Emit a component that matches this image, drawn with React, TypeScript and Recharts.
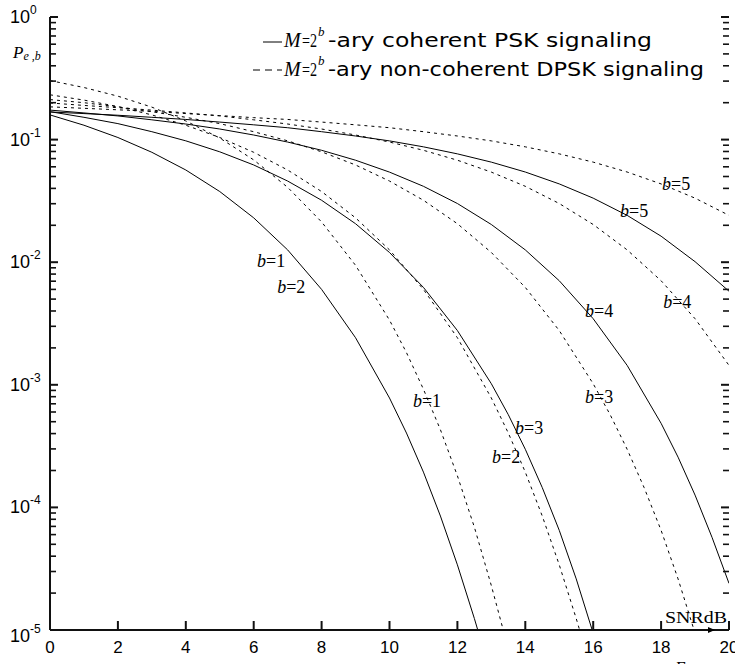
import { LineChart, Line, XAxis, YAxis, ReferenceDot, Legend } from "recharts";

const SANS = "'Liberation Sans', Arial, sans-serif";
const SERIF = "'Liberation Serif', 'Times New Roman', serif";
const WIDE = "'DejaVu Sans', Verdana, sans-serif";
const INK = "#000";
const FRAME = "#111";

const xTicks = [0, 2, 4, 6, 8, 10, 12, 14, 16, 18, 20];
const yDecades = [1e-5, 1e-4, 1e-3, 1e-2, 1e-1, 1];
const yExponents = ["-5", "-4", "-3", "-2", "-1", "0"];
const yMinorSteps = [2, 3, 4, 5, 6, 7, 8, 9];
const yMinorTicks = yDecades.slice(0, -1).flatMap((d) => yMinorSteps.map((k) => k * d));

// [SNR dB, Pe,b]
// coherent PSK (b=1 and b=2 share one curve)
const pskB12 = [
  [0, 0.159], [1, 0.131], [2, 0.104], [3, 0.0788], [4, 0.0565], [5, 0.0377],
  [6, 0.023], [7, 0.0126], [8, 0.006], [9, 0.00242], [10, 7.8e-4], [10.5, 4.04e-4],
  [11, 1.94e-4], [11.5, 8.5e-5], [12, 3.4e-5], [12.5, 1.24e-5], [12.6, 1e-5],
];
const pskB3 = [
  [0, 0.169], [1, 0.152], [2, 0.135], [3, 0.116], [4, 0.0977], [5, 0.0795],
  [6, 0.0621], [7, 0.0459], [8, 0.032], [9, 0.0206], [10, 0.012], [11, 0.00623],
  [12, 0.00277], [13, 0.00102], [13.5, 5.7e-4], [14, 2.98e-4], [14.5, 1.45e-4],
  [15, 6.5e-5], [15.5, 2.61e-5], [15.97, 1e-5],
];
const pskB4 = [
  [0, 0.174], [1, 0.165], [2, 0.156], [3, 0.145], [4, 0.134], [5, 0.122],
  [6, 0.109], [7, 0.0955], [8, 0.0818], [9, 0.0679], [10, 0.0543], [11, 0.0416],
  [12, 0.0301], [13, 0.0203], [14, 0.0126], [15, 0.00706], [16, 0.00346],
  [17, 0.00144], [18, 4.85e-4], [18.5, 2.57e-4], [19, 1.26e-4], [19.5, 5.7e-5],
  [20, 2.4e-5],
];
const pskB5 = [
  [0, 0.168], [1, 0.163], [2, 0.158], [3, 0.152], [4, 0.146], [5, 0.139],
  [6, 0.132], [7, 0.125], [8, 0.116], [9, 0.107], [10, 0.0976], [11, 0.0873],
  [12, 0.0765], [13, 0.0655], [14, 0.0544], [15, 0.0435], [16, 0.0333],
  [17, 0.0241], [18, 0.0163], [19, 0.0101], [20, 0.0058],
];
// non-coherent DPSK
const dpskB1 = [
  [0, 0.303], [1, 0.266], [2, 0.226], [3, 0.184], [4, 0.142], [5, 0.103],
  [6, 0.0683], [7, 0.0408], [8, 0.0213], [9, 0.00943], [10, 0.00337],
  [10.5, 0.00183], [11, 9.2e-4], [11.5, 4.3e-4], [12, 1.81e-4], [12.5, 6.9e-5],
  [13, 2.3e-5], [13.35, 1e-5],
];
const dpskB2 = [
  [0, 0.232], [1, 0.21], [2, 0.186], [3, 0.159], [4, 0.131], [5, 0.104],
  [6, 0.0788], [7, 0.0565], [8, 0.0377], [9, 0.023], [10, 0.0126], [11, 0.006],
  [12, 0.00242], [13, 7.8e-4], [13.5, 4.04e-4], [14, 1.94e-4], [14.5, 8.5e-5],
  [15, 3.4e-5], [15.5, 1.24e-5], [15.6, 1e-5],
];
const dpskB3 = [
  [0, 0.212], [1, 0.2], [2, 0.185], [3, 0.169], [4, 0.152], [5, 0.135],
  [6, 0.116], [7, 0.0977], [8, 0.0795], [9, 0.0621], [10, 0.0459], [11, 0.032],
  [12, 0.0206], [13, 0.012], [14, 0.00623], [15, 0.00277], [16, 0.00102],
  [16.5, 5.7e-4], [17, 2.98e-4], [17.5, 1.45e-4], [18, 6.5e-5], [18.5, 2.61e-5],
  [18.97, 1e-5],
];
const dpskB4 = [
  [0, 0.199], [1, 0.19], [2, 0.182], [3, 0.174], [4, 0.165], [5, 0.156],
  [6, 0.145], [7, 0.134], [8, 0.122], [9, 0.109], [10, 0.0955], [11, 0.0818],
  [12, 0.0679], [13, 0.0543], [14, 0.0416], [15, 0.0301], [16, 0.0203],
  [17, 0.0126], [18, 0.00706], [19, 0.00346], [20, 0.00144],
];
const dpskB5 = [
  [0, 0.185], [1, 0.18], [2, 0.175], [3, 0.17], [4, 0.163], [5, 0.157],
  [6, 0.151], [7, 0.146], [8, 0.139], [9, 0.132], [10, 0.125], [11, 0.116],
  [12, 0.107], [13, 0.0976], [14, 0.0873], [15, 0.0765], [16, 0.0655],
  [17, 0.0544], [18, 0.0435], [19, 0.0333], [20, 0.0241],
];

const solidCurves = [pskB12, pskB3, pskB4, pskB5];
const dashedCurves = [dpskB1, dpskB2, dpskB3, dpskB4, dpskB5];

// "b=n" tags, anchored in data units (lower-left of the text)
const tagSnr = [6.1, 6.69, 10.69, 13.7, 13.02, 16.79, 18.03, 15.76, 18.06, 15.76];
const tagPe = [9.1e-3, 5.6e-3, 6.6e-4, 4.0e-4, 2.3e-4, 0.0234, 0.0388, 3.6e-3, 4.2e-3, 7.1e-4];
const tagB = [1, 2, 1, 3, 2, 5, 5, 4, 4, 3];

const toRows = (pts: number[][]) => pts.map(([x, p]) => ({ x, p }));

const Blank = () => <g />;

const LeftLabel = (props: any) => {
  const { y, payload } = props;
  const i = yDecades.indexOf(payload.value);
  if (i < 0) return <g />;
  return (
    <text x={10} y={y + (i === 0 ? 12 : 6)} fontFamily={SANS} fontSize={18} fill={INK}>
      10
      <tspan dy={-9} fontSize={12}>
        {yExponents[i]}
      </tspan>
    </text>
  );
};

const BottomLabel = (props: any) => {
  const { x, payload } = props;
  return (
    <text x={x} y={653} textAnchor="middle" fontFamily={SANS} fontSize={17} fill={INK}>
      {payload.value}
    </text>
  );
};

// inward tick marks on the log axes, placed at the axis scale positions
const yTickMark = (len: number, dir: number, width: number) => ({
  content: (p: any) => (
    <line
      x1={p.viewBox.x}
      x2={p.viewBox.x + dir * len}
      y1={p.viewBox.y}
      y2={p.viewBox.y}
      stroke={FRAME}
      strokeWidth={width}
    />
  ),
});

const LegendBox = () => (
  <svg width={485} height={70} style={{ display: "block" }}>
    <line x1={13} x2={32} y1={22} y2={22} stroke={INK} strokeWidth={1} />
    <line x1={3} x2={32} y1={50} y2={50} stroke={INK} strokeWidth={1} strokeDasharray="7 5" />
    {[
      { y: 27, text: "-ary coherent  PSK signaling", len: 324 },
      { y: 56, text: "-ary non-coherent DPSK signaling", len: 376 },
    ].map((row) => (
      <g key={row.text}>
        <text x={34} y={row.y} fontFamily={SERIF} fontStyle="italic" fontSize={20} fill={INK}>
          M
        </text>
        <text
          x={52}
          y={row.y}
          fontFamily={SERIF}
          fontSize={19}
          fill={INK}
          textLength={15}
          lengthAdjust="spacingAndGlyphs"
        >
          =2
        </text>
        <text x={68} y={row.y - 11} fontFamily={SERIF} fontStyle="italic" fontSize={13} fill={INK}>
          b
        </text>
        <text
          x={78}
          y={row.y}
          fontFamily={WIDE}
          fontSize={20}
          fill={INK}
          textLength={row.len}
          lengthAdjust="spacingAndGlyphs"
        >
          {row.text}
        </text>
      </g>
    ))}
  </svg>
);

const tagLabel = (n: number) => ({
  content: (p: any) => (
    <text x={p.viewBox.x} y={p.viewBox.y} fontFamily={SERIF} fontSize={18} fill={INK}>
      <tspan fontStyle="italic">b</tspan>={n}
    </text>
  ),
});

const cornerLabel = {
  content: (p: any) => (
    <g>
      <text
        x={p.viewBox.x - 2}
        y={p.viewBox.y - 7}
        textAnchor="end"
        fontFamily={SERIF}
        fontSize={16}
        fill={INK}
        textLength={62}
        lengthAdjust="spacingAndGlyphs"
      >
        SNRdB
      </text>
      <path
        d={`M${p.viewBox.x - 21},${p.viewBox.y - 3} L${p.viewBox.x - 14},${p.viewBox.y} L${p.viewBox.x - 21},${p.viewBox.y + 3} Z`}
        fill={INK}
      />
      <text x={p.viewBox.x - 54} y={p.viewBox.y + 43} fontFamily={SERIF} fontStyle="italic" fontSize={17} fill={INK}>
        Γ
      </text>
    </g>
  ),
};

const peLabel = {
  content: (p: any) => (
    <text x={p.viewBox.x - 37} y={p.viewBox.y + 41} fontFamily={SERIF} fontStyle="italic" fill={INK}>
      <tspan fontSize={17}>P</tspan>
      <tspan fontSize={12} dy={2}>
        e ,b
      </tspan>
    </text>
  ),
};

export default function App() {
  const axisLine = { stroke: FRAME, strokeWidth: 2 };
  const tickLine = { stroke: FRAME, strokeWidth: 2 };
  const yCommon = {
    type: "number" as const,
    scale: "log" as const,
    domain: [1e-5, 1],
    ticks: yDecades,
    interval: 0 as const,
    tickSize: 0,
    tickMargin: 0,
    tickLine: false,
    axisLine,
    allowDataOverflow: true,
  };
  return (
    <div style={{ position: "absolute", left: 0, top: 0, background: "#fff" }}>
      <LineChart width={735} height={664} margin={{ top: 17, right: 6, bottom: 0, left: 0 }}>
        <XAxis
          dataKey="x"
          type="number"
          domain={[0, 20]}
          ticks={xTicks}
          interval={0}
          height={34}
          tickSize={-9}
          tickMargin={0}
          tickLine={tickLine}
          axisLine={axisLine}
          tick={BottomLabel}
          allowDataOverflow
        />
        <XAxis
          xAxisId="top"
          orientation="top"
          dataKey="x"
          type="number"
          domain={[0, 20]}
          ticks={xTicks}
          interval={0}
          height={0}
          tickSize={-9}
          tickMargin={0}
          tickLine={tickLine}
          axisLine={axisLine}
          tick={Blank}
          allowDataOverflow
        />
        <YAxis {...yCommon} width={50} tick={LeftLabel} />
        <YAxis {...yCommon} yAxisId="right" orientation="right" width={0} tick={Blank} />
        <Legend
          layout="horizontal"
          verticalAlign="middle"
          align="center"
          wrapperStyle={{ position: "absolute", left: 250, top: 20, width: 485, height: 70 }}
          content={LegendBox}
        />
        {solidCurves.map((pts, i) => (
          <Line
            key={"psk" + i}
            data={toRows(pts)}
            dataKey="p"
            type="linear"
            stroke={INK}
            strokeWidth={1}
            dot={false}
            isAnimationActive={false}
            legendType="none"
          />
        ))}
        {dashedCurves.map((pts, i) => (
          <Line
            key={"dpsk" + i}
            data={toRows(pts)}
            dataKey="p"
            type="linear"
            stroke={INK}
            strokeWidth={1}
            strokeDasharray="3 4"
            dot={false}
            isAnimationActive={false}
            legendType="none"
          />
        ))}
        {yDecades.map((v) => (
          <ReferenceDot key={"lM" + v} x={0} y={v} r={0} fill="none" stroke="none" label={yTickMark(8, 1, 2)} />
        ))}
        {yDecades.map((v) => (
          <ReferenceDot key={"rM" + v} x={20} y={v} r={0} fill="none" stroke="none" label={yTickMark(8, -1, 2)} />
        ))}
        {yMinorTicks.map((v) => (
          <ReferenceDot key={"lm" + v} x={0} y={v} r={0} fill="none" stroke="none" label={yTickMark(6, 1, 1.6)} />
        ))}
        {yMinorTicks.map((v) => (
          <ReferenceDot key={"rm" + v} x={20} y={v} r={0} fill="none" stroke="none" label={yTickMark(6, -1, 1.6)} />
        ))}
        {tagB.map((n, i) => (
          <ReferenceDot
            key={"tag" + i}
            x={tagSnr[i]}
            y={tagPe[i]}
            r={0}
            fill="none"
            stroke="none"
            label={tagLabel(n)}
          />
        ))}
        <ReferenceDot x={20} y={1e-5} r={0} fill="none" stroke="none" label={cornerLabel} />
        <ReferenceDot x={0} y={1} r={0} fill="none" stroke="none" label={peLabel} />
      </LineChart>
    </div>
  );
}
